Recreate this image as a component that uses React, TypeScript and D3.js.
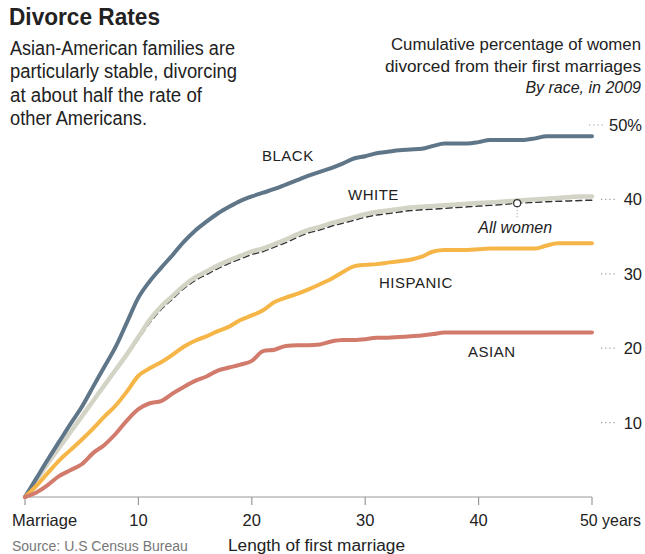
import React from 'react';
import * as d3 from 'd3';

const years = [0,1,2,3,4,5,6,7,8,9,10,11,12,13,14,15,16,17,18,19,20,21,22,23,24,25,26,27,28,29,30,31,32,33,34,35,36,37,38,39,40,41,42,43,44,45,46,47,48,49,50];

const black = [0,2.5,5.0,7.4,9.8,12.1,14.8,17.5,20.2,23.5,26.8,29.0,30.8,32.5,34.3,35.8,37.0,38.1,39.0,39.8,40.4,40.9,41.4,42.0,42.6,43.2,43.7,44.2,44.8,45.5,45.8,46.2,46.4,46.6,46.7,46.8,47.2,47.5,47.5,47.5,47.7,48.0,48.0,48.0,48.0,48.2,48.5,48.5,48.5,48.5,48.5];
const white = [0,2.2,4.5,6.6,8.7,10.8,12.9,15.0,17.1,19.2,21.5,23.8,25.6,27.0,28.4,29.5,30.3,31.1,31.8,32.4,33.0,33.4,34.0,34.6,35.3,35.9,36.3,36.8,37.2,37.6,38.0,38.3,38.5,38.7,38.9,39.0,39.1,39.2,39.3,39.4,39.5,39.6,39.7,39.8,39.9,40.0,40.1,40.2,40.3,40.4,40.4];
const allWomen = [0,2.2,4.5,6.6,8.7,10.8,12.9,15.0,17.0,19.0,21.2,23.4,25.2,26.6,28.0,29.1,29.9,30.7,31.4,32.0,32.6,33.0,33.6,34.2,34.9,35.5,35.9,36.4,36.8,37.2,37.6,37.9,38.1,38.3,38.5,38.6,38.7,38.8,38.9,39.0,39.1,39.2,39.3,39.45,39.55,39.6,39.7,39.75,39.8,39.85,39.9];
const hispanic = [0,1.5,3.2,4.9,6.3,7.7,9.2,10.8,12.3,14.2,16.3,17.3,18.1,19.1,20.2,21.0,21.6,22.3,22.9,23.8,24.4,25.1,26.2,26.8,27.3,27.9,28.6,29.3,30.2,31.0,31.2,31.3,31.5,31.7,31.9,32.3,33.0,33.2,33.2,33.2,33.3,33.4,33.4,33.4,33.4,33.4,33.8,34.1,34.1,34.1,34.1];
const asian = [0,0.6,1.6,2.8,3.6,4.4,5.9,7.0,8.5,10.3,11.8,12.6,12.9,13.9,14.8,15.6,16.2,17.0,17.4,17.8,18.3,19.6,19.8,20.3,20.4,20.4,20.5,20.9,21.1,21.1,21.2,21.4,21.4,21.5,21.6,21.7,21.9,22.1,22.1,22.1,22.1,22.1,22.1,22.1,22.1,22.1,22.1,22.1,22.1,22.1,22.1];

const xTicks = [0, 10, 20, 30, 40, 50];
const xTickLabels = ['Marriage', '10', '20', '30', '40', '50 years'];
const yTicks = [10, 20, 30, 40, 50];
const yTickLabels = ['10', '20', '30', '40', '50%'];

const title = 'Divorce Rates';
const subtitle = ['Asian-American families are', 'particularly stable, divorcing', 'at about half the rate of', 'other Americans.'];
const subtitleWidths = [225, 227, 192, 137];
const note = ['Cumulative percentage of women', 'divorced from their first marriages'];
const noteWidths = [250, 256];
const noteItalic = 'By race, in 2009';
const source = 'Source: U.S Census Bureau';
const xTitle = 'Length of first marriage';

const marker = { year: 43.4, label: 'All women' };

const series = [
  { name: 'WHITE', values: white, color: '#d3d3c6', width: 4.5, lx: 348, ly: 200 },
  { name: 'ALL', values: allWomen, color: '#333', width: 1.5, dash: '6,4' },
  { name: 'BLACK', values: black, color: '#5f7689', width: 4, lx: 262, ly: 161 },
  { name: 'HISPANIC', values: hispanic, color: '#f6b547', width: 4, lx: 379, ly: 288 },
  { name: 'ASIAN', values: asian, color: '#d27b6d', width: 4, lx: 468, ly: 357 },
];

const FONT = "'Liberation Sans', Arial, sans-serif";

export default function App() {
  const x = d3.scaleLinear().domain([0, 50]).range([25, 592]);
  const y = d3.scaleLinear().domain([0, 50]).range([497, 125]);
  const line = d3.line<number>().x((_, i) => x(years[i])).y(d => y(d)).curve(d3.curveMonotoneX);

  const order = ['ALL', 'WHITE', 'BLACK', 'HISPANIC', 'ASIAN'];
  const ordered = order.map(n => series.find(s => s.name === n)!);

  const mVal = d3.interpolateNumber(allWomen[Math.floor(marker.year)], allWomen[Math.ceil(marker.year)])(marker.year - Math.floor(marker.year));

  return (
    <svg width={645} height={554} style={{ position: 'absolute', left: 0, top: 0, fontFamily: FONT }}>
      <rect width={645} height={554} fill="#fff" />
      <text x={9} y={25} fontSize={23} fontWeight="bold" fill="#222" textLength={151} lengthAdjust="spacingAndGlyphs">{title}</text>
      {subtitle.map((t, i) => (
        <text key={i} x={10} y={55 + i * 23.3} fontSize={19.5} fill="#222" textLength={subtitleWidths[i]} lengthAdjust="spacingAndGlyphs">{t}</text>
      ))}
      {note.map((t, i) => (
        <text key={i} x={641 - noteWidths[i]} y={50 + i * 21.5} fontSize={16} fill="#222" textLength={noteWidths[i]} lengthAdjust="spacingAndGlyphs">{t}</text>
      ))}
      <text x={641} y={93} fontSize={16} fill="#222" textAnchor="end" fontStyle="italic">{noteItalic}</text>

      {yTicks.map((v, i) => {
        const isTop = i === yTicks.length - 1;
        const x1 = isTop ? 589 : 601;
        return (
          <g key={v}>
            <line x1={x1} x2={x1 + 14} y1={y(v)} y2={y(v)} stroke="#999" strokeWidth={1.2} strokeDasharray="1.2,3" />
            <text x={642} y={y(v)} dy="0.36em" fontSize={16.5} fill="#222" textAnchor="end">{yTickLabels[i]}</text>
          </g>
        );
      })}

      <line x1={x(0)} x2={x(50)} y1={497} y2={497} stroke="#999" strokeWidth={1.2} />
      {xTicks.map((v, i) => {
        const first = i === 0;
        const last = i === xTicks.length - 1;
        return (
          <g key={v}>
            <line x1={x(v)} x2={x(v)} y1={497} y2={505} stroke="#999" strokeWidth={1.2} />
            <text
              x={first ? 12 : last ? 580 : x(v)}
              y={526}
              fontSize={16.5}
              fill="#222"
              textAnchor={first || last ? 'start' : 'middle'}
              textLength={last ? 61 : undefined}
              lengthAdjust="spacingAndGlyphs"
            >{xTickLabels[i]}</text>
          </g>
        );
      })}
      <text x={12} y={551} fontSize={14} fill="#777">{source}</text>
      <text x={228} y={551} fontSize={16} fill="#222" textLength={177} lengthAdjust="spacingAndGlyphs">{xTitle}</text>

      {ordered.map(s => (
        <path key={s.name} d={line(s.values) || ''} fill="none" stroke={s.color} strokeWidth={s.width}
          strokeDasharray={s.dash} strokeLinejoin="round" strokeLinecap="round" />
      ))}

      <line x1={x(marker.year)} x2={x(marker.year)} y1={y(mVal) + 4} y2={y(mVal) + 16} stroke="#999" strokeWidth={1} strokeDasharray="1,2" />
      <circle cx={x(marker.year)} cy={y(mVal)} r={3.5} fill="#fff" stroke="#333" strokeWidth={1.2} />
      <text x={x(marker.year) - 2} y={233} fontSize={16} fontStyle="italic" fill="#222" textAnchor="middle">{marker.label}</text>

      {series.filter(s => s.lx).map(s => (
        <text key={s.name} x={s.lx} y={s.ly} fontSize={15} fill="#222" letterSpacing={0.5}>{s.name}</text>
      ))}
    </svg>
  );
}
